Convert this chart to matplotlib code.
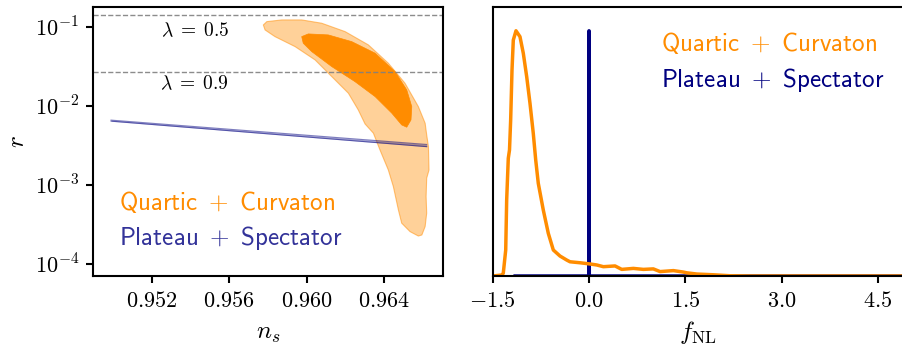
import numpy as np
import matplotlib
matplotlib.use('Agg')
import matplotlib.pyplot as plt

plt.rcParams['mathtext.fontset'] = 'cm'
plt.rcParams['font.family'] = 'serif'
plt.rcParams['font.serif'] = ['DejaVu Serif']

# Dados - painel esquerdo (contornos em ns, r)
ns_outer = [0.95776, 0.95794, 0.95871, 0.95974, 0.96077, 0.96198, 0.96318, 0.96421,
            0.96507, 0.96576, 0.96611, 0.96619, 0.96628, 0.96631, 0.96619, 0.96616,
            0.96619, 0.96611, 0.96594, 0.96576, 0.96533, 0.96490, 0.96473, 0.96447,
            0.96421, 0.96378, 0.96344, 0.96301, 0.96266, 0.96215, 0.96129, 0.96043,
            0.95940, 0.95836, 0.95785]
r_outer = [0.105, 0.1156, 0.1215, 0.1215, 0.1104, 0.0865, 0.0588, 0.0345,
           0.0193, 0.00977, 0.00603, 0.0043, 0.00306, 0.00155, 0.00122, 7.14e-4,
           4.41e-4, 2.99e-4, 2.34e-4, 2.27e-4, 2.58e-4, 3.30e-4, 4.85e-4, 9.55e-4,
           1.55e-3, 2.77e-3, 4.51e-3, 5.90e-3, 8.87e-3, 0.01442, 0.0234, 0.0380,
           0.0559, 0.0748, 0.0908]

ns_inner = [0.95974, 0.96008, 0.96111, 0.96232, 0.96353, 0.96456, 0.96516, 0.96542,
            0.96538, 0.96516, 0.96490, 0.96439, 0.96353, 0.96249, 0.96129, 0.96026,
            0.95982]
r_inner = [0.0748, 0.0809, 0.0786, 0.0647, 0.0462, 0.0270, 0.0159, 0.00977,
           0.00664, 0.00537, 0.00574, 0.00807, 0.01306, 0.0202, 0.0313, 0.0483,
           0.0617]

ns_plateau = [0.9499, 0.96619]
r_plateau_hi = [6.6e-3, 3.25e-3]
r_plateau_lo = [6.4e-3, 3.05e-3]

lambdas = ['$\\lambda\\;=\\;0.5$', '$\\lambda\\;=\\;0.9$']
r_lambda = [0.1406, 0.027]
r_lambda_txt = [0.089, 0.019]
ns_lambda_txt = 0.95423

# Dados - painel direito (fNL normalizado)
fnl_quartic = [-1.5, -1.36, -1.335, -1.297, -1.282, -1.257, -1.238, -1.220, -1.199,
               -1.179, -1.137, -1.075, -1.023, -0.970, -0.919, -0.868, -0.830, -0.790,
               -0.712, -0.634, -0.556, -0.452, -0.347, -0.296, -0.140, 0.016, 0.120,
               0.223, 0.405, 0.509, 0.690, 0.846, 1.001, 1.106, 1.313, 1.469, 1.522,
               1.678, 1.936, 2.196, 2.5, 4.9]
p_quartic = [0.0, 0.004, 0.011, 0.106, 0.310, 0.480, 0.514, 0.636, 0.840,
             0.962, 1.0, 0.976, 0.908, 0.812, 0.704, 0.582, 0.473, 0.378,
             0.269, 0.174, 0.106, 0.0815, 0.065, 0.058, 0.054, 0.049, 0.045,
             0.038, 0.041, 0.027, 0.031, 0.027, 0.029, 0.018, 0.022, 0.016, 0.013,
             0.008, 0.005, 0.001, 0.0, 0.0]
fnl_plateau = [-1.15, -0.004, 0.0, 0.004, 4.9]
p_plateau = [0.0, 0.0, 1.0, 0.0, 0.0]

ns_ticks = [0.952, 0.956, 0.960, 0.964]
ns_labels = ['$0.952$', '$0.956$', '$0.960$', '$0.964$']
r_ticks = [1e-1, 1e-2, 1e-3, 1e-4]
r_labels = ['$10^{-1}$', '$10^{-2}$', '$10^{-3}$', '$10^{-4}$']
fnl_ticks = [-1.5, 0.0, 1.5, 3.0, 4.5]
fnl_labels = ['$-1.5$', '$0.0$', '$1.5$', '$3.0$', '$4.5$']

lab_quartic = r'$\mathsf{Quartic}\ +\ \mathsf{Curvaton}$'
lab_plateau = r'$\mathsf{Plateau}\ +\ \mathsf{Spectator}$'

laranja = '#FF8C00'
azul = '#000080'

fig = plt.figure(figsize=(9.02, 3.46), dpi=100)
ax1 = fig.add_axes([0.1031, 0.2023, 0.388, 0.7775])
ax2 = fig.add_axes([0.5462, 0.2023, 0.4558, 0.7775])

# Painel esquerdo
ax1.set_yscale('log')
ax1.fill(ns_outer, r_outer, facecolor=laranja, alpha=0.4, edgecolor='none')
ax1.fill(ns_outer, r_outer, facecolor='none', edgecolor=laranja, alpha=0.5, lw=0.8)
ax1.fill(ns_inner, r_inner, facecolor=laranja, edgecolor=laranja, lw=0.5)
ax1.fill_between(ns_plateau, r_plateau_lo, r_plateau_hi, color=azul, alpha=0.35, lw=0)
ax1.plot(ns_plateau, r_plateau_hi, color=azul, alpha=0.5, lw=0.8)
ax1.plot(ns_plateau, r_plateau_lo, color=azul, alpha=0.5, lw=0.8)

for r_l, r_t, lab in zip(r_lambda, r_lambda_txt, lambdas):
    ax1.axhline(r_l, color='gray', ls='--', lw=1.0, alpha=0.9)
    ax1.text(ns_lambda_txt, r_t, lab, fontsize=14, ha='center', va='center')

ax1.set_xlim(0.94897, 0.96703)
ax1.set_ylim(7.1e-5, 0.177)
ax1.set_xticks(ns_ticks)
ax1.set_xticklabels(ns_labels)
ax1.set_yticks(r_ticks)
ax1.set_yticklabels(r_labels)
ax1.minorticks_off()
ax1.set_xlabel('$n_s$', fontsize=18, labelpad=7)
ax1.set_ylabel('$r$', fontsize=18, labelpad=4)
ax1.text(0.074, 0.276, lab_quartic, color=laranja,
         fontsize=18, transform=ax1.transAxes, va='center')
ax1.text(0.074, 0.140, lab_plateau, color=azul, alpha=0.8,
         fontsize=18, transform=ax1.transAxes, va='center')

# Painel direito
ax2.plot(fnl_plateau, p_plateau, color=azul, lw=2.5)
ax2.plot(fnl_quartic, p_quartic, color=laranja, lw=2.5)
ax2.set_xlim(-1.5, 4.9)
ax2.set_ylim(0, 1.097)
ax2.set_xticks(fnl_ticks)
ax2.set_xticklabels(fnl_labels)
ax2.set_yticks([])
ax2.set_xlabel('$f_{\\rm NL}$', fontsize=18, labelpad=5)
ax2.text(0.41, 0.867, lab_quartic, color=laranja,
         fontsize=18, transform=ax2.transAxes, va='center')
ax2.text(0.41, 0.729, lab_plateau, color=azul,
         fontsize=18, transform=ax2.transAxes, va='center')

for ax in (ax1, ax2):
    for s in ax.spines.values():
        s.set_linewidth(1.5)
    ax.tick_params(direction='out', length=5, width=1.5, labelsize=16, pad=5)

fig.savefig('out.png', dpi=100)
